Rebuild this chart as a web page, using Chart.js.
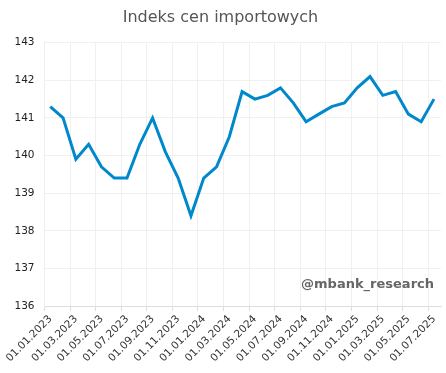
<!DOCTYPE html>
<html>
<head>
<meta charset="utf-8">
<script src="https://cdn.jsdelivr.net/npm/chart.js@4"></script>
<style>
  html, body { margin: 0; padding: 0; background: #fff; }
  #wrap { width: 446px; height: 373px; }
</style>
</head>
<body>
<div id="wrap"><canvas id="myChart"></canvas></div>
<script>
// Data
const months = [
  '01.01.2023', '01.02.2023', '01.03.2023', '01.04.2023', '01.05.2023', '01.06.2023',
  '01.07.2023', '01.08.2023', '01.09.2023', '01.10.2023', '01.11.2023', '01.12.2023',
  '01.01.2024', '01.02.2024', '01.03.2024', '01.04.2024', '01.05.2024', '01.06.2024',
  '01.07.2024', '01.08.2024', '01.09.2024', '01.10.2024', '01.11.2024', '01.12.2024',
  '01.01.2025', '01.02.2025', '01.03.2025', '01.04.2025', '01.05.2025', '01.06.2025',
  '01.07.2025'
];
const importPrices = [
  141.3, 141.0, 139.9, 140.3, 139.7, 139.4,
  139.4, 140.3, 141.0, 140.1, 139.4, 138.4,
  139.4, 139.7, 140.5, 141.7, 141.5, 141.6,
  141.8, 141.4, 140.9, 141.1, 141.3, 141.4,
  141.8, 142.1, 141.6, 141.7, 141.1, 140.9,
  141.5
];
const yTicks = [136, 137, 138, 139, 140, 141, 142, 143];

// readings sit mid-month, a bit after the 1st-of-month tick
const midMonth = 0.45;

const points = importPrices.map((v, i) => ({ x: i + midMonth, y: v }));

const font = 'DejaVu Sans, Verdana, sans-serif';

const watermark = {
  id: 'watermark',
  afterDraw(chart) {
    const c = chart.ctx;
    const area = chart.chartArea;
    c.save();
    c.font = 'bold 13px ' + font;
    c.fillStyle = '#666';
    c.textAlign = 'right';
    c.textBaseline = 'middle';
    c.fillText('@mbank_research', area.right - 7, area.bottom - 21);
    c.restore();
  }
};

const ctx = document.getElementById('myChart').getContext('2d');

const myChart = new Chart(ctx, {
  type: 'line',
  data: {
    datasets: [{
      data: points,
      borderColor: '#0088cc',
      borderWidth: 3,
      pointRadius: 0,
      tension: 0,
      fill: false
    }]
  },
  options: {
    responsive: true,
    maintainAspectRatio: false,
    animation: false,
    layout: { padding: { left: 0, right: 5, top: 0, bottom: 0 } },
    plugins: {
      legend: { display: false },
      tooltip: { enabled: false },
      title: {
        display: true,
        text: 'Indeks cen importowych',
        color: '#555',
        font: { family: font, size: 16, weight: 'normal' },
        padding: { top: 8, bottom: 15.5 }
      }
    },
    scales: {
      x: {
        type: 'linear',
        min: 0,
        max: months.length,
        afterFit: (scale) => { scale.height = 67; },
        grid: { color: '#f0f0f0', tickColor: '#ddd', tickLength: 5 },
        border: { color: '#ddd' },
        ticks: {
          stepSize: 2,
          includeBounds: false,
          autoSkip: false,
          minRotation: 45,
          maxRotation: 45,
          padding: 2,
          labelOffset: 6,
          color: '#333',
          font: { family: font, size: 10.5 },
          callback: (value) => months[value] || ''
        }
      },
      y: {
        min: yTicks[0],
        max: yTicks[yTicks.length - 1],
        afterFit: (scale) => { scale.width = 43.5; },
        grid: { color: '#f0f0f0', drawTicks: false },
        border: { color: '#eee' },
        ticks: {
          stepSize: 1,
          padding: 10,
          color: '#222',
          font: { family: font, size: 10.5 }
        }
      }
    }
  },
  plugins: [watermark]
});
</script>
</body>
</html>
